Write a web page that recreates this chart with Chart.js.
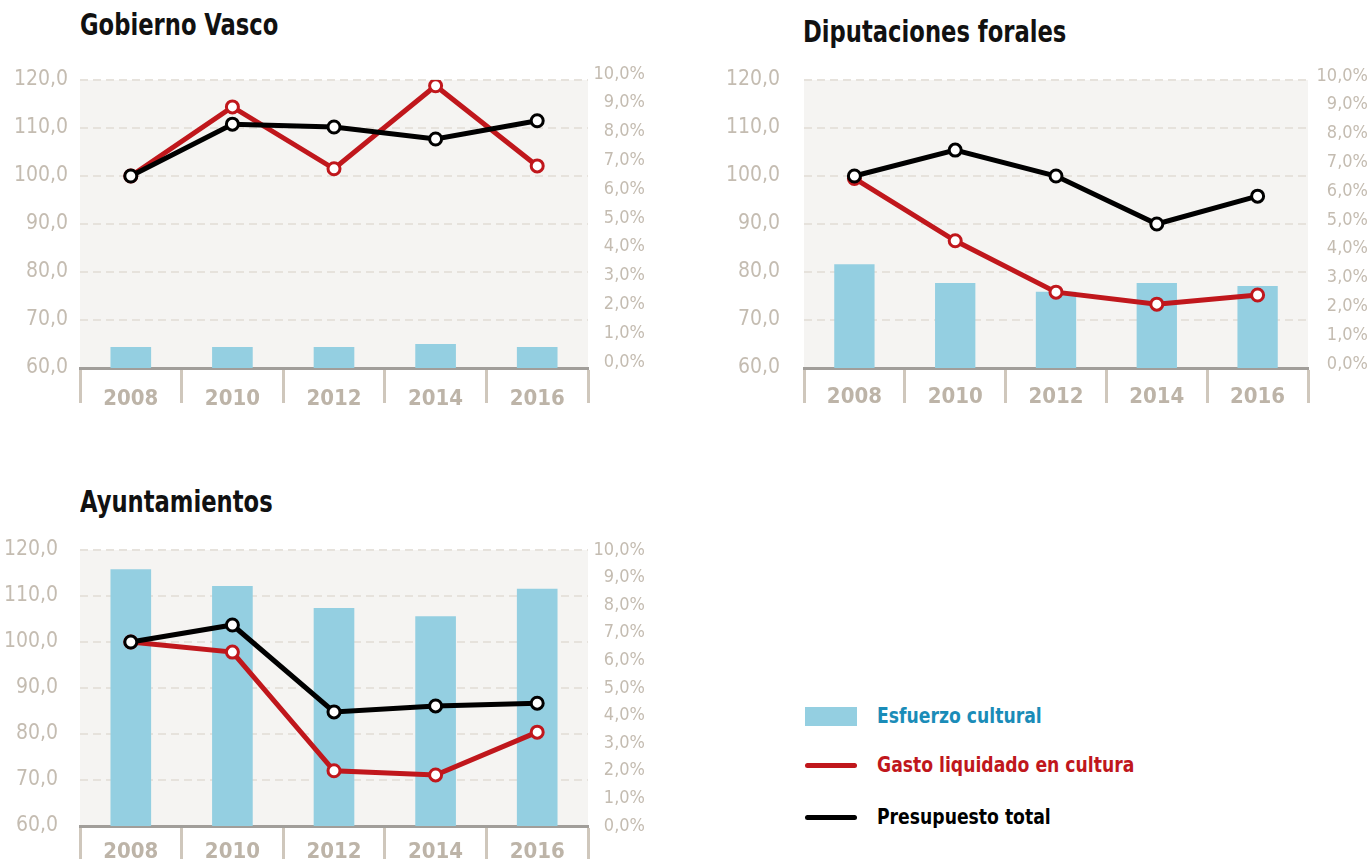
<!DOCTYPE html>
<html>
<head>
<meta charset="utf-8">
<script src="https://cdn.jsdelivr.net/npm/chart.js@4/dist/chart.umd.min.js"></script>
<style>
  html, body { margin: 0; padding: 0; background: #fff; overflow: hidden; }
  body { width: 1370px; height: 859px; position: relative; font-family: "DejaVu Sans Condensed", "DejaVu Sans", sans-serif; }
  .title { position: absolute; font-weight: bold; font-size: 30px; line-height: 32px; color: #111; white-space: nowrap; transform: scaleX(0.84); transform-origin: 0 0; }
  .box { position: absolute; }
  .legend { position: absolute; left: 805px; font-weight: bold; font-size: 22px; line-height: 26px; white-space: nowrap; }
  .legend .sw { position: absolute; left: 0; }
  .legend span { position: absolute; left: 72px; top: 0; transform: scaleX(0.87); transform-origin: 0 0; }
</style>
</head>
<body>

<div class="title" style="left:80px; top:9px;">Gobierno Vasco</div>
<div class="title" style="left:803px; top:16px;">Diputaciones forales</div>
<div class="title" style="left:80px; top:486px;">Ayuntamientos</div>

<div class="box" style="left:0px; top:60px; width:650px; height:348px;"><canvas id="gv"></canvas></div>
<div class="box" style="left:690px; top:60px; width:680px; height:348px;"><canvas id="df"></canvas></div>
<div class="box" style="left:0px; top:530px; width:650px; height:336px;"><canvas id="ay"></canvas></div>

<div class="legend" style="top:703px;"><div class="sw" style="top:4px; width:52px; height:19px; background:#94cfe1;"></div><span style="color:#1a8cb8;">Esfuerzo cultural</span></div>
<div class="legend" style="top:752px;"><div class="sw" style="top:11px; width:52px; height:5px; border-radius:3px; background:#c0171c;"></div><span style="color:#c0171c;">Gasto liquidado en cultura</span></div>
<div class="legend" style="top:804px;"><div class="sw" style="top:11px; width:52px; height:5px; border-radius:3px; background:#000;"></div><span style="color:#000;">Presupuesto total</span></div>

<script>
var years = ['2008', '2010', '2012', '2014', '2016'];

// Gobierno Vasco
var gvEsfuerzo = [0.73, 0.73, 0.73, 0.83, 0.73];
var gvGasto = [100.0, 114.4, 101.5, 118.8, 102.1];
var gvPresupuesto = [100.0, 110.8, 110.2, 107.7, 111.5];

// Diputaciones forales
var dfEsfuerzo = [3.6, 2.95, 2.65, 2.95, 2.85];
var dfGasto = [99.5, 86.5, 75.8, 73.3, 75.2];
var dfPresupuesto = [100.0, 105.4, 100.0, 90.0, 95.8];

// Ayuntamientos
var ayEsfuerzo = [9.3, 8.7, 7.9, 7.6, 8.6];
var ayGasto = [100.0, 97.8, 72.0, 71.1, 80.4];
var ayPresupuesto = [100.0, 103.7, 84.8, 86.1, 86.7];

var FONT = '"DejaVu Sans Condensed", "DejaVu Sans", sans-serif';

var plotBg = {
    id: 'plotBg',
    beforeDraw: function(chart){
        var a = chart.chartArea;
        var ctx = chart.ctx;
        ctx.save();
        ctx.fillStyle = '#f5f4f2';
        ctx.fillRect(a.left, a.top, a.right - a.left, a.bottom - a.top);
        ctx.restore();
    }
};

function makeChart(id, esfuerzo, gasto, presupuesto, leftW, rightW, padRight, leftPad, rightOffset, xPad){
    var ctx = document.getElementById(id).getContext('2d');
    return new Chart(ctx, {
        data: {
            labels: years,
            datasets: [
            {
                type: 'line',
                label: 'Presupuesto total',
                data: presupuesto,
                yAxisID: 'y',
                borderColor: '#000',
                borderWidth: 5,
                pointRadius: 6,
                pointBorderWidth: 3,
                pointBackgroundColor: '#fff',
                pointBorderColor: '#000',
                tension: 0,
                order: 1
            },
            {
                type: 'line',
                label: 'Gasto liquidado en cultura',
                data: gasto,
                yAxisID: 'y',
                borderColor: '#c0171c',
                borderWidth: 5,
                pointRadius: 6,
                pointBorderWidth: 3,
                pointBackgroundColor: '#fff',
                pointBorderColor: '#c0171c',
                tension: 0,
                order: 2
            },
            {
                type: 'bar',
                label: 'Esfuerzo cultural',
                data: esfuerzo,
                yAxisID: 'y1',
                backgroundColor: '#94cfe1',
                barPercentage: 0.4,
                categoryPercentage: 1.0,
                order: 3
            }]
        },
        options: {
            responsive: true,
            maintainAspectRatio: false,
            animation: false,
            layout: { padding: { top: 20, right: padRight, left: 0, bottom: 0 } },
            plugins: { legend: { display: false }, tooltip: { enabled: false } },
            scales: {
                x: {
                    offset: true,
                    grid: {
                        offset: true,
                        drawOnChartArea: false,
                        drawTicks: true,
                        tickLength: 35,
                        tickWidth: 3,
                        tickColor: '#cfc7bc',
                        color: '#cfc7bc'
                    },
                    border: { display: true, color: '#a19e9a', width: 3 },
                    ticks: {
                        color: '#bdb4a8',
                        font: { family: FONT, size: 22, weight: 'bold' },
                        padding: xPad
                    },
                    afterFit: function(s){ s.height = 40; }
                },
                y: {
                    position: 'left',
                    min: 60,
                    max: 120,
                    grid: { color: '#e6e2dc', lineWidth: 2, drawTicks: false },
                    border: { display: false, dash: [8, 5] },
                    ticks: {
                        stepSize: 10,
                        color: '#c4bcb1',
                        padding: leftPad,
                        font: { family: FONT, size: 21 },
                        callback: function(v){ return v.toFixed(1).replace('.', ','); }
                    },
                    afterFit: function(s){ s.width = leftW; s.paddingTop = 0; s.paddingBottom = 0; }
                },
                y1: {
                    position: 'right',
                    min: 0,
                    max: 10,
                    grid: { display: false, drawTicks: false },
                    border: { display: false },
                    ticks: {
                        stepSize: 1,
                        color: '#c4bcb1',
                        crossAlign: 'far',
                        labelOffset: rightOffset,
                        font: { family: FONT, size: 18 },
                        callback: function(v){ return v.toFixed(1).replace('.', ',') + '%'; }
                    },
                    afterFit: function(s){ s.width = rightW; s.paddingTop = 0; s.paddingBottom = 0; }
                }
            }
        },
        plugins: [plotBg]
    });
}

makeChart('gv', gvEsfuerzo, gvGasto, gvPresupuesto, 80, 57, 5, 12, -6, -17);
makeChart('df', dfEsfuerzo, dfGasto, dfPresupuesto, 114, 60, 2, 24, -4, -19);
makeChart('ay', ayEsfuerzo, ayGasto, ayPresupuesto, 80, 57, 5, 22, 0, -22);
</script>
</body>
</html>
